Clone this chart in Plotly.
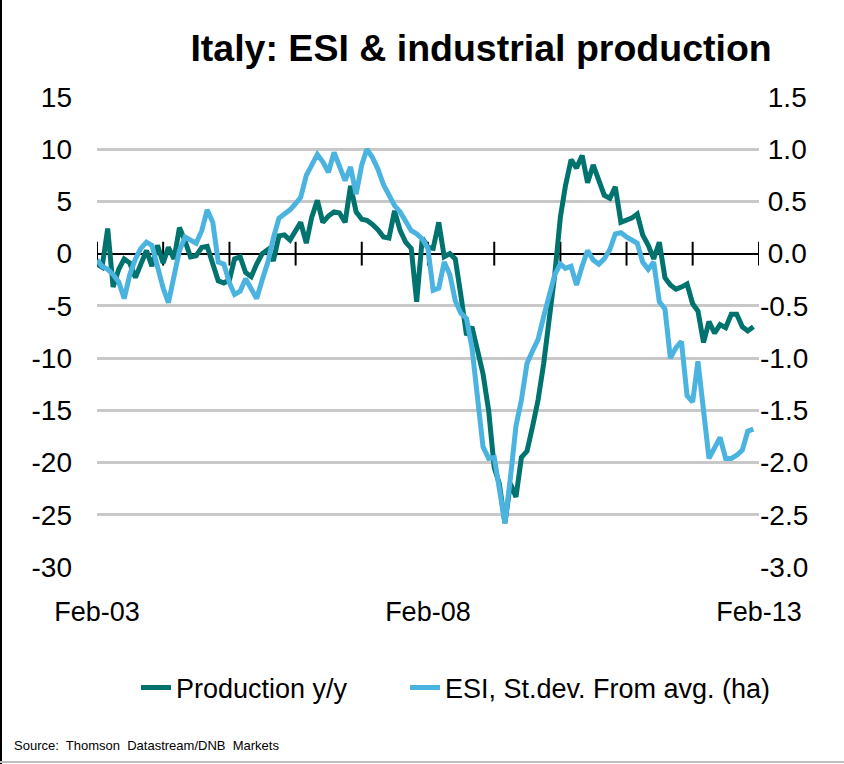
import plotly.graph_objects as go
import pandas as pd

# ---------------- data ----------------
dates = pd.date_range("2003-02-01", periods=120, freq="MS")

production_yy = [
    -1.0, -1.3, 2.4, -3.2, -1.5, -0.5, -0.9, -2.3, -1.0, 0.3,
    -1.2, 0.8, -0.9, 0.6, -0.5, 2.5, 1.2, -0.3, -0.2, 0.6,
    0.7, -1.0, -2.6, -2.8, -2.5, -0.5, -0.3, -1.8, -2.2, -1.0,
    0.0, 0.4, -0.7, 1.7, 1.8, 1.3, 2.2, 3.0, 1.0, 3.5,
    5.1, 3.0, 3.6, 4.0, 3.9, 3.0, 6.5, 4.0, 3.3, 3.2,
    2.8, 2.3, 1.6, 1.5, 4.1, 2.2, 1.1, 0.5, -4.6, 1.5,
    0.6, 0.5, 3.0, -0.3, 0.0, -0.5, -4.0, -7.8, -7.0, -9.5,
    -11.5, -15.0, -20.5, -22.0, -25.8, -22.0, -23.3, -19.5, -18.9, -16.5,
    -14.0, -10.5, -6.5, -2.0, 3.5, 6.5, 9.0, 8.2, 9.4, 6.8,
    8.5, 7.0, 5.6, 5.3, 6.4, 3.0, 3.2, 3.4, 3.8, 1.8,
    0.8, -0.5, 1.1, -2.3, -3.0, -3.4, -3.2, -2.9, -4.8, -5.5,
    -8.5, -6.5, -7.6, -6.8, -7.1, -5.8, -5.8, -7.0, -7.4, -7.0,
]

esi_stdev = [
    -0.06, -0.12, -0.15, -0.20, -0.27, -0.43, -0.20, -0.05, 0.05, 0.11,
    0.08, -0.15, -0.33, -0.47, -0.20, 0.03, 0.16, 0.13, 0.10, 0.22,
    0.42, 0.30, -0.08, -0.10, -0.28, -0.39, -0.36, -0.24, -0.34, -0.43,
    -0.25, -0.08, 0.15, 0.34, 0.38, 0.42, 0.48, 0.54, 0.75, 0.85,
    0.95, 0.88, 0.78, 0.97, 0.85, 0.70, 0.83, 0.57, 0.85, 1.00,
    0.92, 0.81, 0.66, 0.55, 0.46, 0.40, 0.30, 0.22, 0.19, 0.14,
    0.05, -0.35, -0.33, -0.08, -0.20, -0.45, -0.57, -0.62, -0.90, -1.35,
    -1.85, -1.96, -1.95, -2.25, -2.58, -2.15, -1.65, -1.40, -1.05, -0.93,
    -0.82, -0.60, -0.42, -0.20, -0.10, -0.14, -0.12, -0.30, -0.12, 0.03,
    -0.06, -0.10, -0.05, 0.04, 0.19, 0.20, 0.16, 0.13, 0.10, -0.08,
    -0.15, -0.08, -0.46, -0.53, -1.00, -0.90, -0.84, -1.36, -1.42, -1.03,
    -1.50, -1.96, -1.86, -1.76, -1.96, -1.96, -1.93, -1.88, -1.70, -1.68,
]

year_ticks = pd.date_range("2003-02-01", periods=11, freq="12MS")
x_tick_vals = ["2003-02-01", "2008-02-01", "2013-02-01"]
x_tick_text = ["Feb-03", "Feb-08", "Feb-13"]
left_tick_vals = [-30, -25, -20, -15, -10, -5, 0, 5, 10, 15]
left_tick_text = ["-30", "-25", "-20", "-15", "-10", "-5", "0", "5", "10", "15"]
right_tick_vals = [-3.0, -2.5, -2.0, -1.5, -1.0, -0.5, 0.0, 0.5, 1.0, 1.5]
right_tick_text = ["-3.0", "-2.5", "-2.0", "-1.5", "-1.0", "-0.5",
                   "\u00a00.0", "\u00a00.5", "\u00a01.0", "\u00a01.5"]

TEAL = "#00736F"
LBLUE = "#4BB3E0"
FONT = "Liberation Sans, Arial, sans-serif"

fig = go.Figure()

# year tick marks crossing the zero line
fig.add_trace(go.Scatter(
    x=year_ticks, y=[0] * len(year_ticks), mode="markers",
    marker=dict(symbol="line-ns", size=17, line=dict(width=2, color="black")),
    showlegend=False, hoverinfo="skip"))

fig.add_trace(go.Scatter(
    x=dates[:len(production_yy)], y=production_yy, mode="lines",
    name="Production y/y", line=dict(color=TEAL, width=5), legend="legend"))

fig.add_trace(go.Scatter(
    x=dates[:len(esi_stdev)], y=esi_stdev, mode="lines", yaxis="y2",
    name="ESI, St.dev. From avg. (ha)", line=dict(color=LBLUE, width=5),
    legend="legend2"))

W, H = 844, 764
L, R, T, B = 97, 85, 97, 197
pw, ph = W - L - R, H - T - B


def px_x(p):
    return (p - L) / pw


def px_y(p):
    return (H - B - p) / ph


legend_common = dict(orientation="h", xref="container", yref="container",
                     xanchor="left", yanchor="middle", font=dict(size=27),
                     bgcolor="rgba(0,0,0,0)")

fig.update_layout(
    width=W, height=H,
    margin=dict(l=L, r=R, t=T, b=B, autoexpand=False),
    paper_bgcolor="white", plot_bgcolor="white",
    font=dict(family=FONT, color="black", size=27),
    title=dict(text="<b>Italy: ESI & industrial production</b>",
               x=0.57, y=1 - 48 / H, xanchor="center", yanchor="middle",
               font=dict(size=37.5, family=FONT, color="black")),
    xaxis=dict(type="date", range=["2003-02-01", "2013-02-01"],
               tickvals=x_tick_vals, ticktext=x_tick_text,
               showgrid=False, zeroline=False, showline=False, ticks="",
               ticklabelstandoff=26, tickfont=dict(size=27)),
    yaxis=dict(range=[-30, 15], tickvals=left_tick_vals, ticktext=left_tick_text,
               showgrid=True, gridcolor="#C8C8C8", gridwidth=3,
               zeroline=True, zerolinecolor="black", zerolinewidth=2,
               showline=False, ticks="", ticklabelstandoff=24,
               tickfont=dict(size=28)),
    yaxis2=dict(range=[-3.0, 1.5], overlaying="y", side="right",
                tickvals=right_tick_vals, ticktext=right_tick_text,
                showgrid=False, zeroline=False, showline=False, ticks="",
                ticklabelstandoff=0, tickfont=dict(size=28)),
    showlegend=True,
    legend=dict(x=136 / W, y=1 - 688 / H, **legend_common),
    legend2=dict(x=405 / W, y=1 - 688 / H, **legend_common),
    annotations=[dict(text="Source:  Thomson  Datastream/DNB  Markets",
                      xref="paper", yref="paper", x=px_x(12), y=px_y(745),
                      xanchor="left", yanchor="middle", showarrow=False,
                      font=dict(size=13, family=FONT))],
    shapes=[
        dict(type="line", xref="paper", yref="paper", x0=px_x(1), x1=px_x(1),
             y0=px_y(0), y1=px_y(764), line=dict(color="black", width=2)),
        dict(type="line", xref="paper", yref="paper", x0=px_x(0), x1=px_x(844),
             y0=px_y(762), y1=px_y(762), line=dict(color="#C0C0C0", width=2)),
    ],
)

fig.write_html("out.html", config={"displayModeBar": False},
               post_script="document.body.style.margin='0';document.body.style.padding='0';")
